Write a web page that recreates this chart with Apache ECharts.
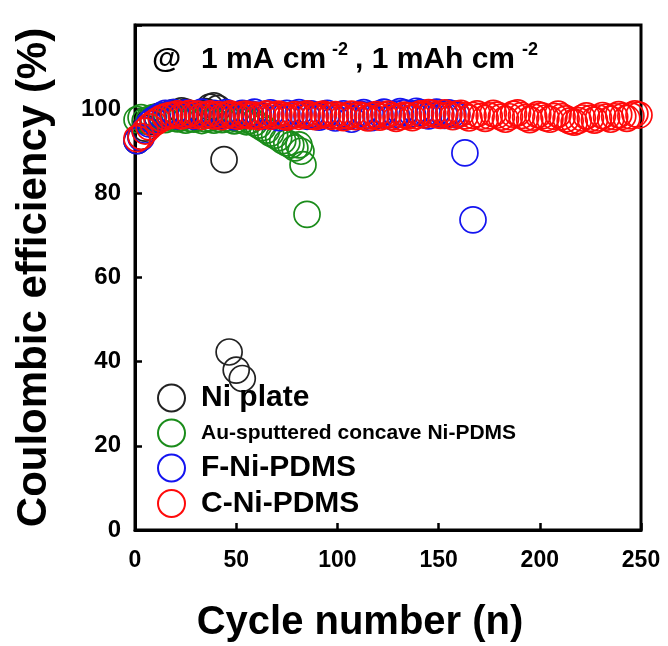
<!DOCTYPE html>
<html><head><meta charset="utf-8">
<script src="https://cdn.jsdelivr.net/npm/echarts@6/dist/echarts.min.js"></script>
<style>html,body{margin:0;padding:0;background:#fff}#c{width:668px;height:646px}</style>
</head><body><div id="c"></div>
<script>
const seriesNames = ['Ni plate', 'Au-sputtered concave Ni-PDMS', 'F-Ni-PDMS', 'C-Ni-PDMS'];
const seriesColors = ['#222222', '#1a8c1a', '#1414f0', '#ff0a0a'];

const niCycles = [1,3,5,7,9,11,13,15,17,19,21,23,25,27,29,31,33,35,37,39,41,44,46.5,50,53];
const niCE = [92.5,93.5,95.5,97.0,97.8,98.2,98.5,98.3,98.8,99.2,99.0,99.6,99.3,98.9,98.6,98.8,99.0,99.4,100.5,100.8,100.2,88.0,42.3,38.0,36.0];

const auCycles = [1,3,5,7,9,11,13,15,17,19,21,23,25,27,29,31,33,35,37,39,41,43,45,47,49,51,53,55,57,59,61,63,65,67,69,71,73,75,77,79,81,82,83,85];
const auCE = [97.5,98.0,97.2,97.6,98.0,97.8,98.2,97.5,97.9,98.1,
              97.7,98.0,97.4,97.8,97.6,98.0,97.3,97.7,97.9,97.4,
              97.8,97.5,97.9,97.6,97.2,97.7,97.4,97.0,97.3,96.8,
              96.2,95.6,95.0,94.3,93.8,93.2,92.5,92.0,91.5,90.8,
              91.5,90.0,86.8,75.0];

const fCycles = [1,3,5,7,9,11,13,15,17,19,21,23,25,27,29,31,33,35,37,39,41,43,45,47,49,51,53,55,57,59,61,63,65,67,69,71,73,75,77,79,81,83,85,87,89,91,93,95,97,99,101,103,105,107,109,111,113,115,117,119,121,123,125,127,129,131,133,135,137,139,141,143,145,147,149,151,153,155,157,159,163,167];
const fCE = [92.5,93.2,95.0,96.5,97.4,98.0,
             98.5,99.0,98.7,99.2,98.4,98.8,99.1,98.6,98.3,98.9,
             99.3,98.7,98.5,99.0,98.4,98.8,99.2,98.6,98.2,98.7,
             99.0,98.5,98.9,99.3,98.6,98.3,98.8,99.1,98.5,98.0,
             98.6,99.0,98.4,98.8,99.2,98.7,98.3,98.9,98.5,98.1,
             98.7,99.0,98.4,97.9,98.5,98.9,98.2,97.6,98.3,98.8,
             99.2,98.6,98.0,98.5,98.9,99.3,98.7,98.2,98.8,99.4,
             99.1,98.6,98.9,99.5,99.2,98.7,98.4,99.0,99.3,98.8,
             98.5,99.1,98.9,98.6,
             89.6,73.7];

const cCycles = [1,3,5,7,9,11,13,15,17,19,21,23,25,27,29,31,33,35,37,39,41,43,45,47,49,51,53,55,57,59,61,63,65,67,69,71,73,75,77,79,81,83,85,87,89,91,93,95,97,99,
                 101,103,105,107,109,111,113,115,117,119,121,123,125,127,129,131,133,135,137,139,141,143,145,147,149,
                 151,153,155,157,159,161,163,165,167,169,171,173,175,177,179,181,183,185,187,189,191,193,195,197,199,
                 201,203,205,207,209,211,213,215,217,219,221,223,225,227,229,231,233,235,237,239,241,243,245,247,249];
const cCE = [93.0,93.5,94.8,95.8,96.6,97.2,97.8,98.2,98.5,
             98.6,98.9,98.4,98.7,99.0,98.5,98.8,98.3,98.6,98.9,98.4,98.7,98.2,98.6,98.9,98.5,98.3,98.7,98.8,98.4,
             98.6,98.2,98.5,98.9,98.3,98.6,98.8,98.4,98.1,98.5,98.7,98.3,98.6,98.9,98.4,98.2,98.6,98.8,98.5,98.3,98.7,
             98.4,98.0,98.5,98.8,98.2,98.6,98.3,97.9,98.4,98.7,98.1,98.5,98.8,98.3,97.8,98.2,98.6,98.4,98.0,98.5,98.9,98.6,99.2,99.0,98.7,
             98.5,99.1,98.6,98.2,98.8,99.0,98.4,97.9,98.5,98.9,
             98.3,97.8,98.4,99.0,98.6,98.1,97.6,98.2,98.8,99.1,
             98.5,98.0,97.5,98.1,98.7,98.4,97.9,97.6,98.3,98.8,
             98.2,97.7,97.2,96.9,97.3,97.9,98.4,97.8,97.4,97.9,
             98.5,98.1,97.6,98.2,98.7,98.3,97.8,98.4,98.9,98.6];

const xTicks = [0, 50, 100, 150, 200, 250];
const yTicks = [0, 20, 40, 60, 80, 100];

const allCycles = [niCycles, auCycles, fCycles, cCycles];
const allCE = [niCE, auCE, fCE, cCE];

const FONT = '"Liberation Sans", Arial, sans-serif';
const chart = echarts.init(document.getElementById('c'), null, {renderer: 'canvas'});

const series = seriesNames.map((name, k) => ({
  name: name,
  type: 'scatter',
  symbol: 'circle',
  symbolSize: 26,
  clip: false,
  data: allCycles[k].map((x, i) => [x, allCE[k][i]]),
  itemStyle: {color: 'rgba(0,0,0,0)', borderColor: seriesColors[k], borderWidth: 1.7, opacity: 1},
  emphasis: {disabled: true}
}));

const mainText = {fontFamily: FONT, fontWeight: 'bold', fontSize: 30, fill: '#000', verticalAlign: 'middle'};
const supText = {fontFamily: FONT, fontWeight: 'bold', fontSize: 18, fill: '#000', verticalAlign: 'middle'};

chart.setOption({
  backgroundColor: '#fff',
  animation: false,
  grid: {left: 135, right: 27, top: 25, bottom: 116, show: true, borderColor: '#000', borderWidth: 3},
  xAxis: {
    type: 'value', min: 0, max: 250, interval: 50,
    axisLine: {show: true, onZero: false, lineStyle: {color: '#000', width: 3}},
    axisTick: {show: true, inside: true, length: 7, lineStyle: {color: '#000', width: 2.5}},
    axisLabel: {fontFamily: FONT, fontWeight: 'bold', fontSize: 23, color: '#000', margin: 19,
      formatter: v => xTicks.includes(v) ? String(v) : ''},
    splitLine: {show: false}
  },
  yAxis: {
    type: 'value', min: 0, max: 120, interval: 20,
    name: 'Coulombic efficiency (%)', nameLocation: 'middle', nameGap: 80,
    nameTextStyle: {fontFamily: FONT, fontWeight: 'bold', fontSize: 42, color: '#000'},
    axisLine: {show: true, onZero: false, lineStyle: {color: '#000', width: 3}},
    axisTick: {show: true, inside: true, length: 7, lineStyle: {color: '#000', width: 2.5}},
    axisLabel: {fontFamily: FONT, fontWeight: 'bold', fontSize: 24, color: '#000', margin: 14,
      formatter: v => yTicks.includes(v) ? String(v) : ''},
    splitLine: {show: false}
  },
  legend: {
    data: seriesNames,
    orient: 'vertical', left: 157, top: 383, padding: 0,
    icon: 'circle', itemWidth: 27, itemHeight: 27, itemGap: 5.5,
    itemStyle: {borderWidth: 2},
    textStyle: {fontFamily: FONT, color: '#000',
      rich: {
        big: {fontFamily: FONT, fontWeight: 'bold', fontSize: 30, lineHeight: 30, color: '#000', padding: [0,0,0,11]},
        small: {fontFamily: FONT, fontWeight: 'bold', fontSize: 21, lineHeight: 30, color: '#000', padding: [0,0,0,11]}
      }},
    formatter: n => n.startsWith('Au') ? '{small|' + n + '}' : '{big|' + n + '}',
    selectedMode: false
  },
  graphic: [
    {type: 'text', x: 152, y: 60, style: Object.assign({text: '@'}, mainText)},
    {type: 'text', x: 201, y: 60, style: Object.assign({text: '1 mA cm'}, mainText)},
    {type: 'text', x: 332, y: 50, style: Object.assign({text: '-2'}, supText)},
    {type: 'text', x: 355, y: 60, style: Object.assign({text: ', 1 mAh cm'}, mainText)},
    {type: 'text', x: 522, y: 50, style: Object.assign({text: '-2'}, supText)},
    {type: 'text', x: 360, y: 623,
      style: {text: 'Cycle number (n)', fontFamily: FONT, fontWeight: 'bold', fontSize: 40, fill: '#000',
        align: 'center', verticalAlign: 'middle'}}
  ],
  series: series
});
</script></body></html>
